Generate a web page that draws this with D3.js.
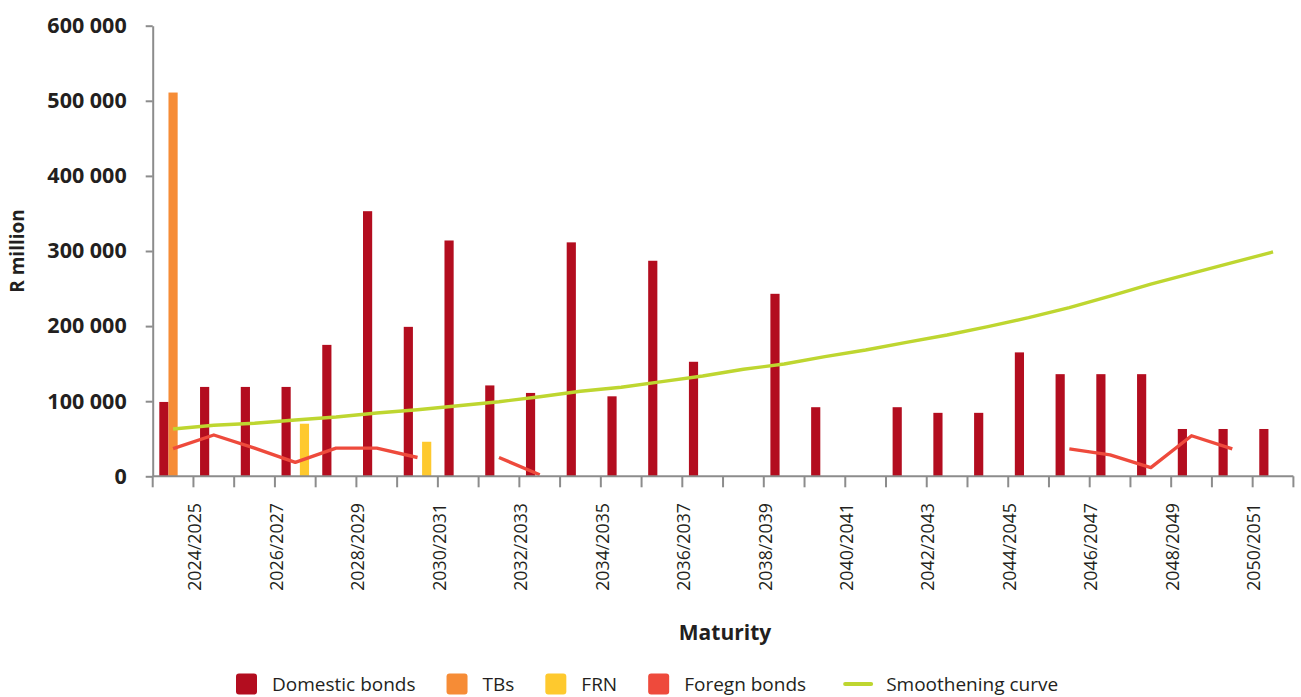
<!DOCTYPE html>
<html>
<head>
<meta charset="utf-8">
<script src="https://cdn.jsdelivr.net/npm/d3@7"></script>
<style>
  html, body { margin: 0; padding: 0; background: #ffffff; }
  svg { display: block; font-family: "Open Sans", "Noto Sans", sans-serif; }
</style>
</head>
<body>
<svg id="chart" width="1301" height="697"></svg>
<script>
// Maturity years
const categories = [
  "2023/2024", "2024/2025", "2025/2026", "2026/2027", "2027/2028", "2028/2029", "2029/2030",
  "2030/2031", "2031/2032", "2032/2033", "2033/2034", "2034/2035", "2035/2036", "2036/2037",
  "2037/2038", "2038/2039", "2039/2040", "2040/2041", "2041/2042", "2042/2043", "2043/2044",
  "2044/2045", "2045/2046", "2046/2047", "2047/2048", "2048/2049", "2049/2050", "2050/2051"
];

// R million per maturity year
const domesticBonds = [
  99000, 119000, 119000, 119000, 175000, 353000, 199000,
  314000, 121000, 111000, 311500, 106500, 287000, 152500,
  null, 243000, 92000, null, 92000, 84500, 84500,
  165000, 136000, 136000, 136000, 63000, 63000, 63000
];
const treasuryBills = [
  511000, null, null, null, null, null, null,
  null, null, null, null, null, null, null,
  null, null, null, null, null, null, null,
  null, null, null, null, null, null, null
];
const frn = [
  null, null, null, 70000, null, null, 46000,
  null, null, null, null, null, null, null,
  null, null, null, null, null, null, null,
  null, null, null, null, null, null, null
];
const foreignBonds = [
  37000, 55000, 37500, 18500, 37500, 37500, 25000,
  null, 25000, 2000, null, null, null, null,
  null, null, null, null, null, null, null,
  null, 36500, 28500, 11500, 54000, 36500, null
];
const smoothingCurve = [
  63000, 67900, 70600, 75000, 79000, 84300, 88700,
  94000, 99300, 106000, 113200, 118500, 126000, 133500,
  142500, 149500, 159300, 168200, 178400, 188100, 199200,
  211200, 224500, 240000, 256000, 270300, 284400, 298700
];

const yTicks = [0, 100000, 200000, 300000, 400000, 500000, 600000];
const yTickLabels = ["0", "100 000", "200 000", "300 000", "400 000", "500 000", "600 000"];

const barSeries = [
  { name: "Domestic bonds", values: domesticBonds, color: "#b30d1f" },
  { name: "TBs", values: treasuryBills, color: "#f68c36" },
  { name: "FRN", values: frn, color: "#fec92e" }
];
const lineSeries = [
  { name: "Foregn bonds", values: foreignBonds, color: "#ee4a3c" },
  { name: "Smoothening curve", values: smoothingCurve, color: "#bed630" }
];

const svg = d3.select("#chart");
const textColor = "#231f20";
const axisColor = "#8c8c8c";

const plot = { left: 152.7, right: 1293.4, top: 25.7, bottom: 476.3 };

const x = d3.scaleBand()
  .domain(categories)
  .range([plot.left, plot.right])
  .paddingInner(0)
  .paddingOuter(0);

const xSub = d3.scaleBand()
  .domain(barSeries.map(s => s.name))
  .range([0, x.bandwidth()])
  .paddingInner(0)
  .paddingOuter(0.72);

const y = d3.scaleLinear()
  .domain([0, 600000])
  .range([plot.bottom, plot.top]);

// Bars
barSeries.forEach(s => {
  svg.append("g")
    .selectAll("rect")
    .data(categories.map((c, i) => ({ c, v: s.values[i] })).filter(d => d.v != null))
    .join("rect")
    .attr("x", d => x(d.c) + xSub(s.name))
    .attr("y", d => y(d.v))
    .attr("width", xSub.bandwidth())
    .attr("height", d => y(0) - y(d.v))
    .attr("fill", s.color);
});

// Lines
lineSeries.forEach(s => {
  const line = d3.line()
    .defined(d => d.v != null)
    .x(d => x(d.c) + x.bandwidth() / 2)
    .y(d => y(d.v));
  svg.append("path")
    .datum(categories.map((c, i) => ({ c, v: s.values[i] })))
    .attr("d", line)
    .attr("fill", "none")
    .attr("stroke", s.color)
    .attr("stroke-width", 3.4)
    .attr("stroke-linejoin", "round");
});

// Y axis
const yAxis = d3.axisLeft(y)
  .tickValues(yTicks)
  .tickFormat((d, i) => yTickLabels[i])
  .tickSize(7)
  .tickSizeOuter(0)
  .tickPadding(19);
const gy = svg.append("g")
  .attr("transform", `translate(${plot.left},0)`)
  .call(yAxis);
gy.select(".domain").attr("stroke", axisColor).attr("stroke-width", 2);
gy.selectAll(".tick line").attr("stroke", axisColor).attr("stroke-width", 2);
gy.selectAll(".tick text")
  .attr("fill", textColor)
  .style("font-size", "21.5px")
  .style("font-weight", "700")
  .style("font-family", "'Open Sans', sans-serif");

// X axis: ticks on category boundaries
const boundaries = categories.map(c => x(c)).concat([plot.right]);
const gx = svg.append("g");
gx.append("line")
  .attr("x1", plot.left).attr("x2", plot.right)
  .attr("y1", y(0)).attr("y2", y(0))
  .attr("stroke", axisColor).attr("stroke-width", 2);
gx.selectAll("line.tick")
  .data(boundaries)
  .join("line")
  .attr("class", "tick")
  .attr("x1", d => d).attr("x2", d => d)
  .attr("y1", y(0)).attr("y2", y(0) + 11)
  .attr("stroke", axisColor).attr("stroke-width", 2);

// Category labels, every second year
gx.selectAll("text")
  .data(categories.filter((c, i) => i % 2 === 1))
  .join("text")
  .attr("transform", d => `translate(${x(d) + 1.5},503) rotate(-90)`)
  .attr("text-anchor", "end")
  .attr("dy", "0.35em")
  .attr("fill", textColor)
  .style("font-size", "17.8px")
  .text(d => d);

// Axis titles
svg.append("text")
  .attr("transform", `translate(24,${(plot.top + plot.bottom) / 2}) rotate(-90)`)
  .attr("text-anchor", "middle")
  .attr("fill", textColor)
  .style("font-size", "19px")
  .style("font-weight", "700")
  .text("R million");

svg.append("text")
  .attr("x", 725)
  .attr("y", 640)
  .attr("text-anchor", "middle")
  .attr("fill", textColor)
  .style("font-size", "21px")
  .style("font-weight", "700")
  .text("Maturity");

// Legend
const legendItems = barSeries.map(s => ({ name: s.name, color: s.color, type: "box" }))
  .concat(lineSeries.map((s, i) => ({ name: s.name, color: s.color, type: i === 0 ? "box" : "line" })));
const legend = svg.append("g");
let lx = 236;
const ly = 684;
legendItems.forEach(item => {
  const g = legend.append("g");
  let markW;
  if (item.type === "box") {
    markW = 21;
    g.append("rect")
      .attr("x", lx).attr("y", ly - 10.5)
      .attr("width", 21).attr("height", 21)
      .attr("rx", 3).attr("ry", 3)
      .attr("fill", item.color);
  } else {
    markW = 34;
    g.append("line")
      .attr("x1", lx + 8).attr("x2", lx + markW)
      .attr("y1", ly).attr("y2", ly)
      .attr("stroke", item.color)
      .attr("stroke-width", 4)
      .attr("stroke-linecap", "round");
  }
  const t = g.append("text")
    .attr("x", lx + markW + 15)
    .attr("y", ly)
    .attr("dy", "0.35em")
    .attr("fill", textColor)
    .style("font-size", "19px")
    .text(item.name);
  lx += markW + 15 + t.node().getComputedTextLength() + 31;
});
</script>
</body>
</html>
